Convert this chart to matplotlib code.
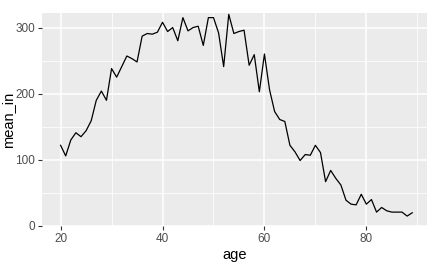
import numpy as np
import matplotlib
matplotlib.use("Agg")
import matplotlib.pyplot as plt
from matplotlib.ticker import MultipleLocator

# data
age = list(range(20, 90))
mean_in = [122, 106, 130, 141, 135, 144, 159, 190, 204, 190,
           238, 225, 241, 257, 253, 248, 287, 291, 290, 293,
           308, 294, 300, 280, 315, 295, 300, 302, 273, 315,
           315, 292, 241, 320, 291, 294, 296, 243, 259, 203,
           260, 206, 173, 161, 158, 122, 112, 99, 108, 107,
           122, 111, 67, 84, 72, 62, 39, 33, 32, 48,
           33, 40, 21, 28, 23, 21, 21, 21, 15, 20]

x_ticks = [20, 40, 60, 80]
y_ticks = [0, 100, 200, 300]

plt.rcParams['font.family'] = ['Liberation Sans', 'DejaVu Sans']

fig = plt.figure(figsize=(4.34, 2.67), dpi=100)
ax = fig.add_axes([42/434, 1-226/267, (427-42)/434, (226-13)/267])
ax.set_facecolor('#EBEBEB')

ax.plot(age, mean_in, color='black', lw=0.9)

ax.set_xlim(16.35, 91.9)
ax.set_ylim(0, 322)
ax.set_xticks(x_ticks)
ax.set_yticks(y_ticks)
ax.xaxis.set_minor_locator(MultipleLocator(10))
ax.yaxis.set_minor_locator(MultipleLocator(50))
ax.grid(which='major', color='white', lw=1.1)
ax.grid(which='minor', color='white', lw=0.55)
ax.set_axisbelow(True)
for s in ax.spines.values():
    s.set_visible(False)
ax.tick_params(which='major', length=3, width=0.8, color='#333333',
               labelsize=8.5, labelcolor='#4D4D4D', pad=2)
ax.tick_params(which='minor', length=0)

ax.set_xlabel('age', fontsize=10.5, color='black', labelpad=2)
ax.set_ylabel('mean_in', fontsize=10.5, color='black')
# y title sits close to the left edge, like the reference
ax.yaxis.set_label_coords((15 - 42) / 385, 0.5)

fig.savefig('out.png', dpi=100)
